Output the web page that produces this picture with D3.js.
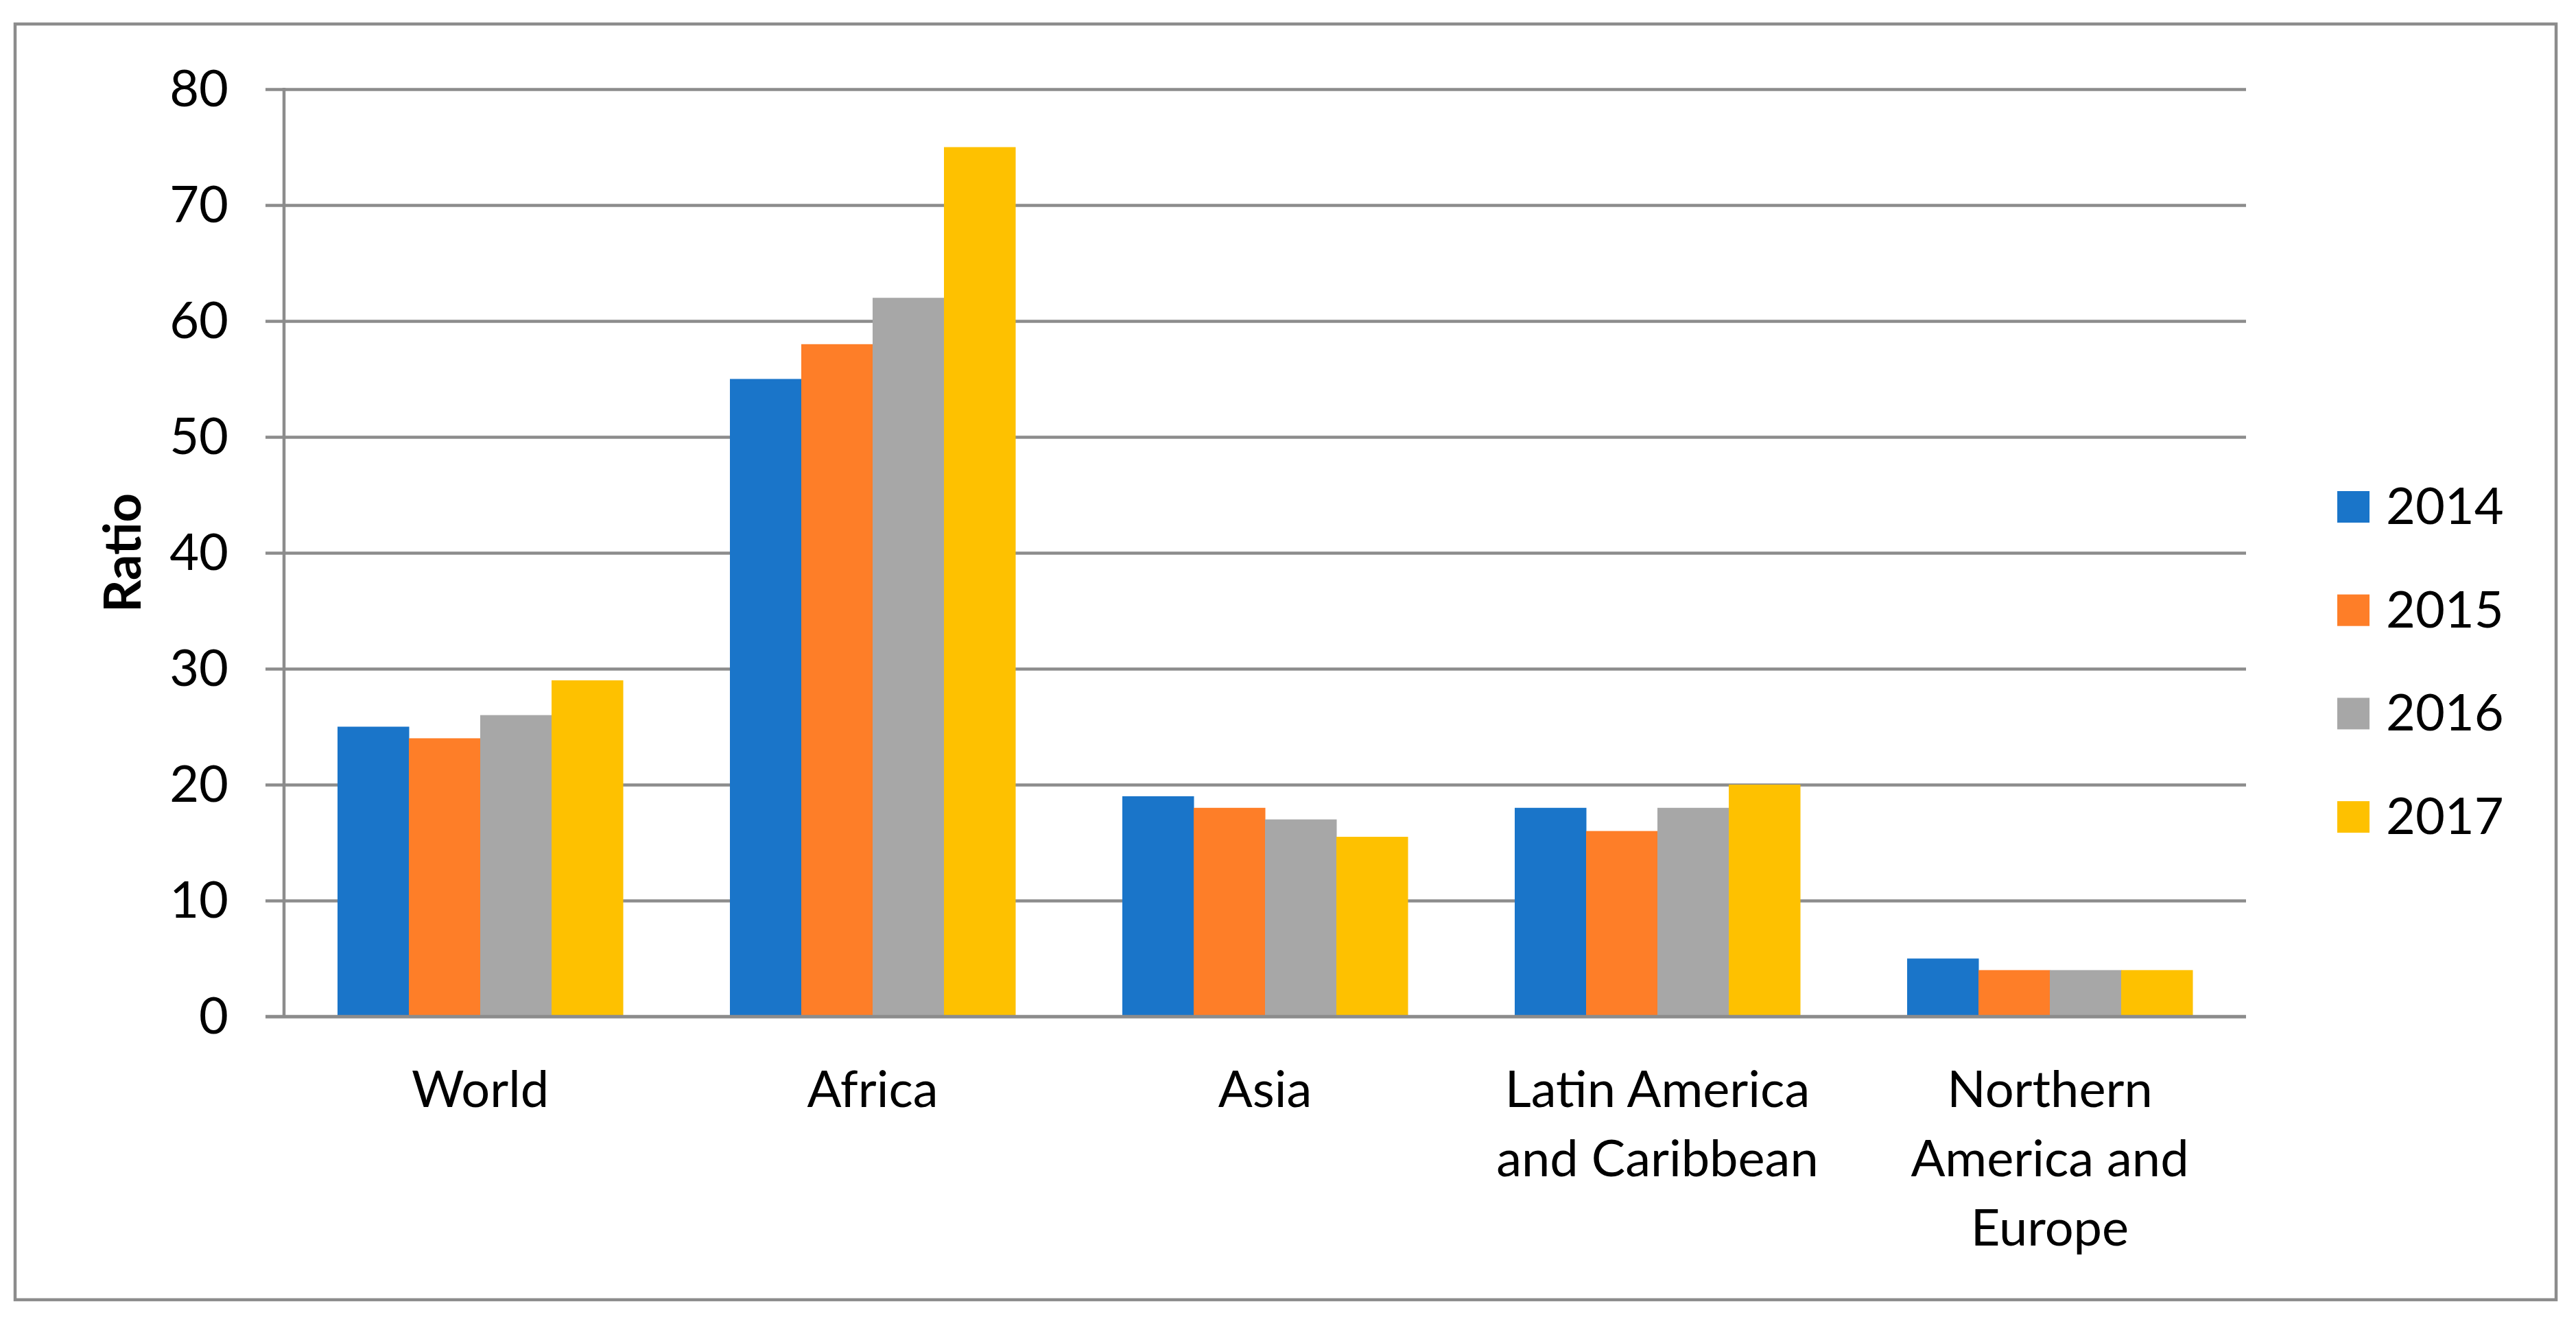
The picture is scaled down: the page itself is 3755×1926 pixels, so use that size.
<!DOCTYPE html>
<html>
<head>
<meta charset="utf-8">
<script src="https://cdn.jsdelivr.net/npm/d3@7"></script>
<style>
  html, body { margin: 0; padding: 0; background: #ffffff; }
  svg { display: block; }
  text { font-family: Lato, "Open Sans", "Liberation Sans", sans-serif; fill: #000; }
</style>
</head>
<body>
<svg id="chart" width="3755" height="1926"></svg>
<script>
const categories = [["World"], ["Africa"], ["Asia"], ["Latin America", "and Caribbean"], ["Northern", "America and", "Europe"]];
const seriesNames = ["2014", "2015", "2016", "2017"];
const values2014 = [25, 55, 19, 18, 5];
const values2015 = [24, 58, 18, 16, 4];
const values2016 = [26, 62, 17, 18, 4];
const values2017 = [29, 75, 15.5, 20, 4];
const seriesColors = ["#1a75c9", "#fe7e28", "#a7a7a7", "#fec100"];
const yTicks = [0, 10, 20, 30, 40, 50, 60, 70, 80];
const yLabel = "Ratio";

const series = [values2014, values2015, values2016, values2017];
const catKeys = categories.map(c => c.join(" "));

const svg = d3.select("#chart");
const gridColor = "#8c8c8c";
const fontSize = 74;

// outer frame
svg.append("rect")
  .attr("x", 22).attr("y", 35).attr("width", 3704).attr("height", 1860)
  .attr("fill", "#fff").attr("stroke", gridColor).attr("stroke-width", 4.5);

const plot = { left: 414, right: 3274, top: 130, bottom: 1482 };

const x0 = d3.scaleBand().domain(catKeys).range([plot.left, plot.right])
  .paddingInner(0.2727).paddingOuter(0.13635);
const x1 = d3.scaleBand().domain(seriesNames).range([0, x0.bandwidth()]).padding(0);
const y = d3.scaleLinear().domain([0, 80]).range([plot.bottom, plot.top]);

// gridlines with outward ticks
const yAxis = d3.axisLeft(y).tickValues(yTicks)
  .tickSize(-(plot.right - plot.left)).tickSizeOuter(0).tickFormat(() => "");
const gGrid = svg.append("g").attr("transform", `translate(${plot.left},0)`).call(yAxis);
gGrid.select(".domain").remove();
gGrid.selectAll(".tick line").attr("stroke", gridColor).attr("stroke-width", 4.5)
  .attr("x1", -27);

// bars
const gBars = svg.append("g");
series.forEach((vals, si) => {
  gBars.selectAll(null).data(vals).enter().append("rect")
    .attr("x", (d, i) => x0(catKeys[i]) + x1(seriesNames[si]))
    .attr("width", x1.bandwidth() + 0.5)
    .attr("y", d => y(d))
    .attr("height", d => y(0) - y(d))
    .attr("fill", seriesColors[si]);
});

// y axis line
svg.append("line")
  .attr("x1", plot.left).attr("x2", plot.left)
  .attr("y1", y(80) - 2).attr("y2", y(0) + 2)
  .attr("stroke", gridColor).attr("stroke-width", 4.5);
// x axis baseline
svg.append("line")
  .attr("x1", plot.left - 27).attr("x2", plot.right)
  .attr("y1", y(0)).attr("y2", y(0))
  .attr("stroke", gridColor).attr("stroke-width", 4.5);

// y tick labels
svg.append("g").selectAll("text").data(yTicks).enter().append("text")
  .attr("x", 333).attr("y", d => y(d) + 25)
  .attr("text-anchor", "end").attr("font-size", fontSize)
  .text(d => d);

// y axis title
svg.append("text")
  .attr("transform", `translate(205,${(plot.top + plot.bottom) / 2}) rotate(-90)`)
  .attr("text-anchor", "middle").attr("font-size", fontSize).attr("font-weight", "bold")
  .text(yLabel);

// category labels
const gCat = svg.append("g");
categories.forEach((lines, i) => {
  const cx = x0(catKeys[i]) + x0.bandwidth() / 2;
  const t = gCat.append("text").attr("text-anchor", "middle").attr("font-size", fontSize);
  lines.forEach((ln, j) => {
    t.append("tspan").attr("x", cx).attr("y", 1614 + j * 101).text(ln);
  });
});

// legend
const legend = svg.append("g");
seriesNames.forEach((name, i) => {
  const cy = 739 + i * 150.7;
  legend.append("rect").attr("x", 3407).attr("y", cy - 23).attr("width", 47).attr("height", 46)
    .attr("fill", seriesColors[i]);
  legend.append("text").attr("x", 3478).attr("y", cy + 25).attr("font-size", fontSize).text(name);
});
</script>
</body>
</html>
